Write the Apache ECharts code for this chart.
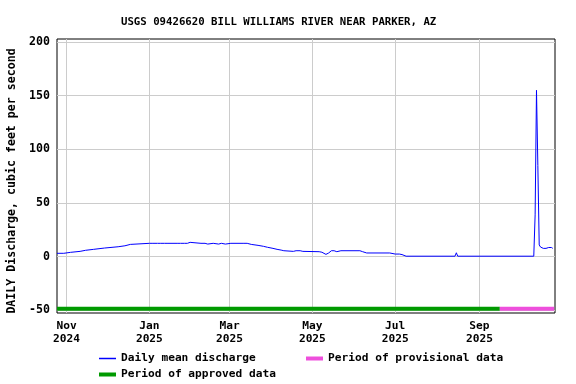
<!DOCTYPE html>
<html>
<head>
<meta charset="utf-8">
<script src="https://cdn.jsdelivr.net/npm/echarts@6/dist/echarts.min.js"></script>
<style>html,body{margin:0;padding:0;background:#fff}#c{width:576px;height:384px}</style>
</head>
<body>
<div id="c"></div>
<script>
var titleText = 'USGS 09426620 BILL WILLIAMS RIVER NEAR PARKER, AZ';
var yAxisName = 'DAILY Discharge, cubic feet per second';
var yTickValues = [-50, 0, 50, 100, 150, 200];
var xTickDates = ['2024-11-01', '2025-01-01', '2025-03-01', '2025-05-01', '2025-07-01', '2025-09-01'];
var monthNames = ['Jan','Feb','Mar','Apr','May','Jun','Jul','Aug','Sep','Oct','Nov','Dec'];

var dischargeDates = [
 '2024-10-25','2024-10-30','2024-10-31','2024-11-04','2024-11-05','2024-11-11','2024-11-12','2024-11-15',
 '2024-11-16','2024-11-21','2024-11-22','2024-11-29','2024-11-30','2024-12-09','2024-12-10','2024-12-14',
 '2024-12-15','2024-12-18','2024-12-19','2025-01-01','2025-01-02','2025-01-03','2025-01-07','2025-01-08',
 '2025-01-09','2025-01-12','2025-01-13','2025-01-14','2025-01-22','2025-01-23','2025-01-24','2025-01-27',
 '2025-01-28','2025-01-29','2025-01-31','2025-02-01','2025-02-08','2025-02-09','2025-02-11','2025-02-13',
 '2025-02-17','2025-02-21','2025-02-23','2025-02-26','2025-03-02','2025-03-11','2025-03-12','2025-03-14',
 '2025-03-17','2025-03-22','2025-03-26','2025-03-29','2025-04-02','2025-04-05','2025-04-08','2025-04-10',
 '2025-04-17','2025-04-19','2025-04-22','2025-04-24','2025-05-06','2025-05-08','2025-05-11','2025-05-13',
 '2025-05-15','2025-05-17','2025-05-19','2025-05-22','2025-06-05','2025-06-07','2025-06-10','2025-06-27',
 '2025-07-01','2025-07-04','2025-07-06','2025-07-09','2025-08-14','2025-08-15','2025-08-16','2025-10-11',
 '2025-10-12','2025-10-13','2025-10-14','2025-10-15','2025-10-16','2025-10-17','2025-10-18','2025-10-20',
 '2025-10-21','2025-10-22','2025-10-23','2025-10-24','2025-10-25'
];
var dischargeValues = [
 3.2,3.2,4.1,4.1,5.0,5.0,6.0,6.0,
 6.9,6.9,8.1,8.1,9.3,9.3,10.2,10.2,
 11.5,11.5,12.5,12.5,13.4,12.5,12.5,13.4,
 12.5,12.5,13.4,12.5,12.5,13.4,12.5,12.5,
 13.4,12.5,13.4,12.5,12.5,13.4,12.5,11.8,
 12.5,11.8,12.5,11.8,12.5,12.5,13.4,12.5,
 11.5,10.6,9.7,8.8,7.8,6.9,6.2,5.6,
 5.0,5.6,5.6,5.0,4.7,4.2,2.2,3.5,
 5.6,5.6,4.7,5.6,5.6,4.7,3.5,3.5,
 2.5,2.5,2.0,0.5,0.5,3.7,0.5,0.5,
 39,155,85,11,9,8.5,7.8,7.8,
 8.6,8.6,7.8,8.6,7.8
];
var approvedDates = ['2024-10-25', '2025-09-16'];
var provisionalDates = ['2025-09-16', '2025-10-26'];
var periodBarLevel = -48.4;
var xMinDate = '2024-10-25T00:00';
var xMaxDate = '2025-10-26T15:00';
var yMin = -52.4, yMax = 202.8;

function ts(s) {
  var p = s.split('T'); var d = p[0].split('-');
  var h = p[1] ? +p[1].split(':')[0] : 0;
  return Date.UTC(+d[0], +d[1] - 1, +d[2], h);
}
var discharge = dischargeDates.map(function (d, i) { return [ts(d), dischargeValues[i]]; });
var approved = approvedDates.map(function (d) { return [ts(d), periodBarLevel]; });
var provisional = provisionalDates.map(function (d) { return [ts(d), periodBarLevel]; });
var xTicks = xTickDates.map(ts);

var FONT = 'DejaVu Sans Mono';
var legendText = {fontFamily: FONT, fontWeight: 'bold', fontSize: 11.2, color: '#000'};
var chart = echarts.init(document.getElementById('c'), null, {renderer: 'canvas'});
chart.setOption({
  animation: false,
  backgroundColor: '#fff',
  title: {
    text: titleText, left: 116, top: 11.5,
    textStyle: {fontFamily: FONT, fontWeight: 'bold', fontSize: 10.7, color: '#000'}
  },
  grid: {left: 57, right: 21, top: 39, bottom: 71, outerBoundsMode: 'none', containLabel: false,
         show: true, borderColor: '#000', borderWidth: 1, backgroundColor: 'transparent'},
  xAxis: {
    type: 'value', min: ts(xMinDate), max: ts(xMaxDate),
    axisLine: {show: false}, axisTick: {show: false, customValues: xTicks},
    splitLine: {show: true, lineStyle: {color: '#cccccc', width: 1}},
    axisLabel: {
      customValues: xTicks, margin: 7, lineHeight: 13,
      fontFamily: FONT, fontWeight: 'bold', fontSize: 11.2, color: '#000',
      formatter: function (v) { var d = new Date(v); return monthNames[d.getUTCMonth()] + '\n' + d.getUTCFullYear(); }
    }
  },
  yAxis: {
    type: 'value', min: yMin, max: yMax,
    name: yAxisName, nameLocation: 'middle', nameGap: 38, nameRotate: 90,
    nameTextStyle: {fontFamily: FONT, fontWeight: 'bold', fontSize: 11.6, color: '#000', padding: [0, 10, 0, 0]},
    axisLine: {show: false}, axisTick: {show: false, customValues: yTickValues},
    splitLine: {show: true, lineStyle: {color: '#cccccc', width: 1}},
    axisLabel: {customValues: yTickValues, margin: 7, fontFamily: FONT, fontWeight: 'bold', fontSize: 11.6, color: '#000'}
  },
  legend: [
    {left: 99, top: 353, padding: 0, itemWidth: 17, itemHeight: 1.5, icon: 'rect',
     textStyle: legendText, data: ['Daily mean discharge']},
    {left: 306, top: 353, padding: 0, itemWidth: 17, itemHeight: 4, icon: 'rect',
     textStyle: legendText, data: ['Period of provisional data']},
    {left: 99, top: 369, padding: 0, itemWidth: 17, itemHeight: 4, icon: 'rect',
     textStyle: legendText, data: ['Period of approved data']}
  ],
  series: [
    {name: 'Period of approved data', type: 'line', data: approved, showSymbol: false, symbol: 'none',
     lineStyle: {color: '#009a00', width: 4}, itemStyle: {color: '#009a00'}, z: 3},
    {name: 'Period of provisional data', type: 'line', data: provisional, showSymbol: false, symbol: 'none',
     lineStyle: {color: '#ee4fdc', width: 4}, itemStyle: {color: '#ee4fdc'}, z: 3},
    {name: 'Daily mean discharge', type: 'line', data: discharge, showSymbol: false, symbol: 'none',
     lineStyle: {color: '#0000ff', width: 1}, itemStyle: {color: '#0000ff'}, z: 4}
  ]
});
</script>
</body>
</html>
